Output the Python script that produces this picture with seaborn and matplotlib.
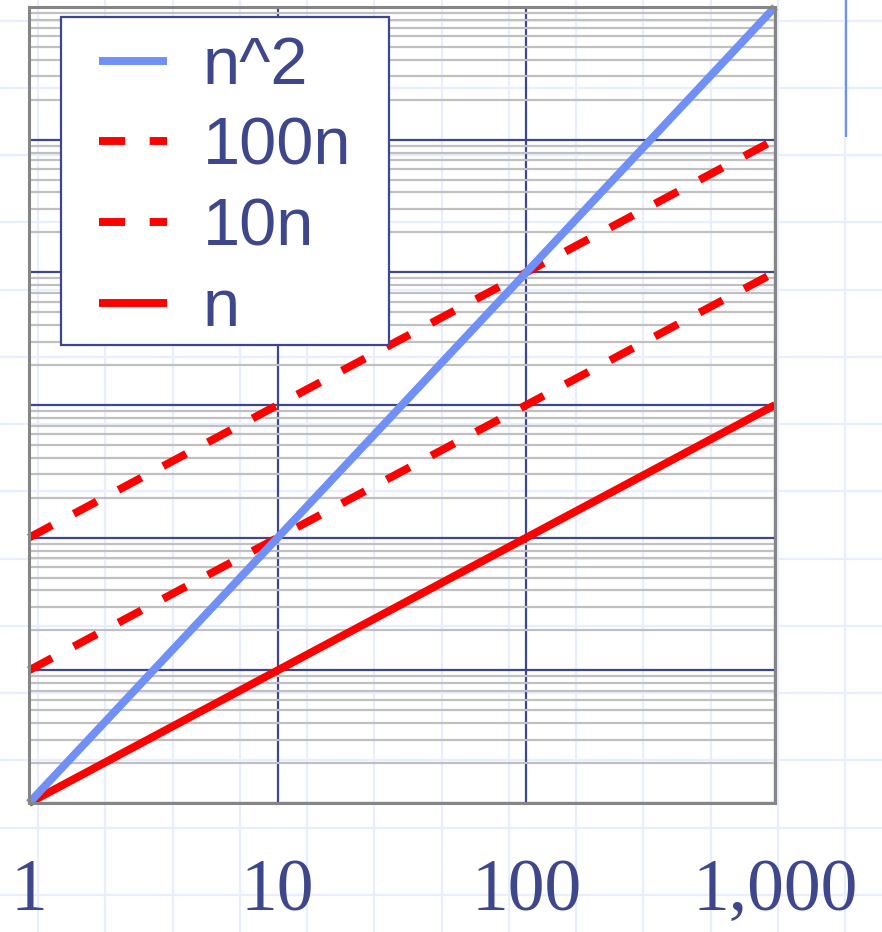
import numpy as np
import pandas as pd
import matplotlib
matplotlib.use("Agg")
import matplotlib.pyplot as plt
from matplotlib.patches import Rectangle
import seaborn as sns

# ---- data ----
n_values = [1, 10, 100, 1000]
n_squared = [1, 100, 10000, 1000000]
hundred_n = [100, 1000, 10000, 100000]
ten_n = [10, 100, 1000, 10000]
n_linear = [1, 10, 100, 1000]
x_tick_values = [1, 10, 100, 1000]
x_tick_labels = ["1", "10", "100", "1,000"]
series_labels = ["n^2", "100n", "10n", "n"]

sns.set_style("white")
plt.rcParams["font.family"] = ["Liberation Sans", "DejaVu Sans"]

NAVY = "#3F478C"
BLUE = "#7090F8"
RED = "#FF0000"
GRAY = "#858585"
MINOR = "#C0C0C0"
BGGRID = "#E8EEFF"

W, H = 882, 932
fig = plt.figure(figsize=(W / 100, H / 100), dpi=100)
fig.patch.set_facecolor("white")

# slide background grid
bg = fig.add_axes([0, 0, 1, 1], zorder=0)
bg.set_xlim(0, W)
bg.set_ylim(H, 0)
bg.axis("off")
bg.vlines(np.arange(38, W, 67.25), 0, H, color=BGGRID, lw=1.6)
bg.hlines(np.arange(20.7, H, 67.25), 0, W, color=BGGRID, lw=1.6)
bg.vlines([846], 0, 137, color=BLUE, lw=1.6)

# main axes
ax = fig.add_axes([29 / W, 1 - 803 / H, 746 / W, 796 / H], zorder=1)
ax.patch.set_alpha(0)
ax.set_xscale("log")
ax.set_yscale("log")

df = pd.DataFrame({"n": n_values, "n^2": n_squared, "100n": hundred_n,
                   "10n": ten_n, "n_lin": n_linear})

lw = 5.7
dash = (0, (3.3, 3.1))
sns.lineplot(data=df, x="n", y="100n", ax=ax, color=RED, lw=lw,
             linestyle=dash, clip_on=False, dash_capstyle="butt")
sns.lineplot(data=df, x="n", y="10n", ax=ax, color=RED, lw=lw,
             linestyle=dash, clip_on=False, dash_capstyle="butt")
sns.lineplot(data=df, x="n", y="n_lin", ax=ax, color=RED, lw=lw,
             clip_on=False, solid_capstyle="butt")
sns.lineplot(data=df, x="n", y="n^2", ax=ax, color=BLUE, lw=lw,
             clip_on=False, solid_capstyle="butt")
lines = ax.get_lines()
line_100, line_10, line_n, line_sq = lines[0], lines[1], lines[2], lines[3]

ax.set_xlim(1, 1000)
ax.set_ylim(1, 1e6)
ax.set_xlabel("")
ax.set_ylabel("")

ax.set_axisbelow(True)
ax.grid(which="major", axis="both", color=NAVY, lw=1.6)
ax.grid(which="minor", axis="y", color=MINOR, lw=1.6)
ax.grid(which="minor", axis="x", visible=False)

for s in ax.spines.values():
    s.set_color(GRAY)
    s.set_linewidth(2.2)
    s.set_visible(True)

ax.set_xticks(x_tick_values)
ax.set_xticklabels(x_tick_labels)
ax.set_yticks([1, 10, 100, 1000, 1e4, 1e5, 1e6])
ax.tick_params(axis="both", which="major", direction="out", length=6,
               width=2, color=GRAY)
ax.tick_params(axis="both", which="minor", length=0)
ax.tick_params(axis="y", labelleft=False)
ax.tick_params(axis="x", pad=34, labelsize=53, labelcolor=NAVY)
for t in ax.get_xticklabels():
    t.set_fontfamily(["Liberation Serif", "DejaVu Serif"])

# legend frame (slide-style box)
frame = Rectangle((61 / W, 1 - 345 / H), (389 - 61) / W, (345 - 17) / H,
                  transform=fig.transFigure, facecolor="white",
                  edgecolor=NAVY, lw=1.6, zorder=3)
fig.patches.append(frame)

leg = fig.legend([line_sq, line_100, line_10, line_n], series_labels,
                 loc="upper left", bbox_to_anchor=(99 / W, 1 - 36 / H),
                 bbox_transform=fig.transFigure, borderaxespad=0,
                 fontsize=48, frameon=False,
                 handlelength=1.02, handletextpad=0.54, borderpad=0,
                 labelspacing=0.28)
for t in leg.get_texts():
    t.set_color(NAVY)
leg.set_zorder(4)

fig.savefig("out.png", dpi=100)
